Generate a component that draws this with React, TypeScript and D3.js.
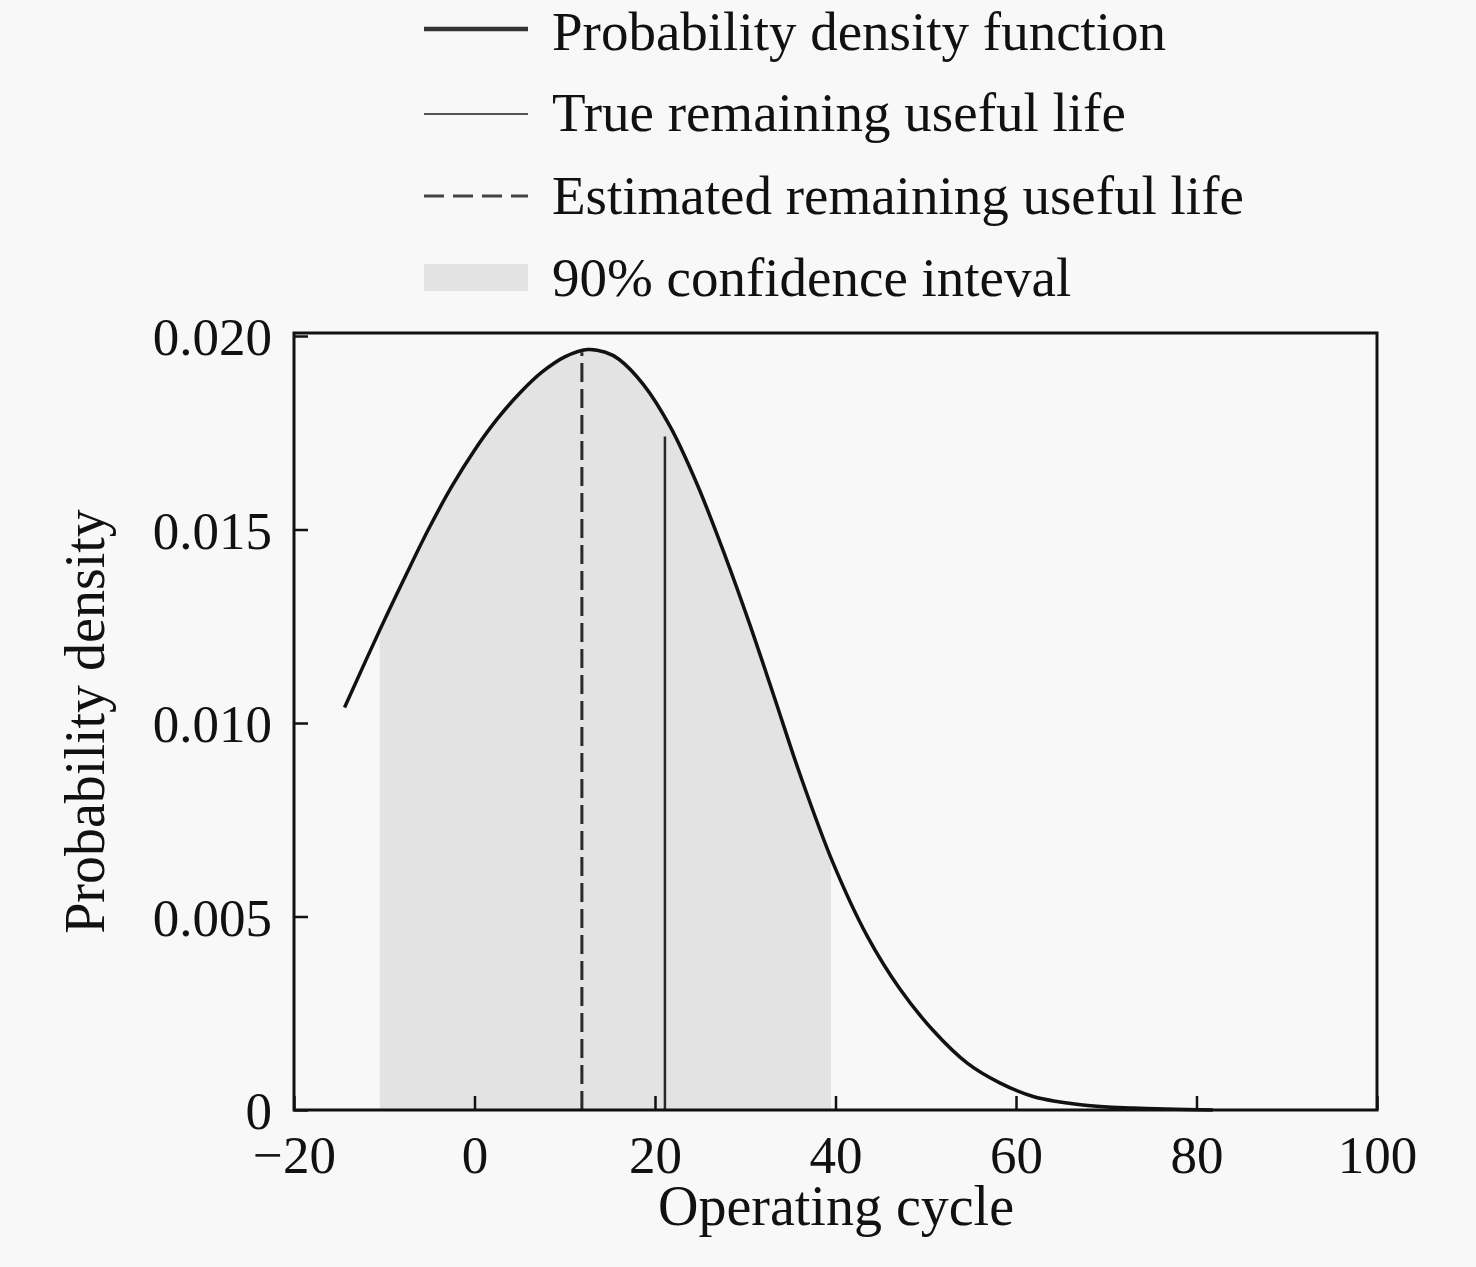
import * as d3 from "d3";
import { useEffect, useRef } from "react";

// values
const cycles = [
  -14.4, -10.5, -7.5, -5, -2.5, 0, 2.5, 5, 7.5, 10, 12.5, 14.5, 16, 18.7, 21.7,
  24.7, 27.8, 30.5, 33.1, 36.1, 39.7, 43.5, 47.1, 50.8, 54.6, 58.2, 61.9, 67.4,
  73.0, 81.8,
];
const density = [
  0.0104, 0.0124, 0.01387, 0.01505, 0.01612, 0.01705, 0.01785, 0.01852,
  0.01907, 0.01946, 0.01965, 0.01958, 0.0194, 0.01875, 0.01765, 0.01615,
  0.0143, 0.01255, 0.01075, 0.00865, 0.0064, 0.0045, 0.00314, 0.00206, 0.00121,
  0.0007, 0.00035, 0.00013, 0.00005, 0,
];
const confidence = [-10.5, 39.5];
const trueRul = { cycle: 21.1, top: 0.0174 };
const estRul = { cycle: 11.9, top: 0.01958 };
const xTicks = [-20, 0, 20, 40, 60, 80, 100];
const yTicks = [0, 0.005, 0.01, 0.015, 0.02];
const legendLabels = [
  "Probability density function",
  "True remaining useful life",
  "Estimated remaining useful life",
  "90% confidence inteval",
];

const W = 1476;
const H = 1267;
const FONT = "'Liberation Serif', 'Times New Roman', serif";

export default function App() {
  const ref = useRef<SVGSVGElement>(null);

  useEffect(() => {
    const svg = d3.select(ref.current);
    svg.selectAll("*").remove();

    const left = 294,
      right = 1377,
      top = 333,
      bottom = 1110;

    const x = d3.scaleLinear().domain([-20, 100]).range([left, right]);
    const y = d3.scaleLinear().domain([0, 0.02]).range([bottom, 336]);

    svg.append("rect").attr("width", W).attr("height", H).attr("fill", "#f8f8f8");

    const pts = cycles.map((c, i) => [c, density[i]] as [number, number]);
    const smooth = d3.curveCatmullRom.alpha(0.5);

    // shaded confidence interval, clipped to its bounds
    svg
      .append("clipPath")
      .attr("id", "ci-clip")
      .append("rect")
      .attr("x", x(confidence[0]))
      .attr("y", top)
      .attr("width", x(confidence[1]) - x(confidence[0]))
      .attr("height", bottom - top);

    svg
      .append("path")
      .datum(pts)
      .attr("clip-path", "url(#ci-clip)")
      .attr("fill", "#e3e3e3")
      .attr(
        "d",
        d3
          .area<[number, number]>()
          .x((d) => x(d[0]))
          .y0(bottom)
          .y1((d) => y(d[1]))
          .curve(smooth)
      );

    // estimated RUL (dashed)
    svg
      .append("line")
      .attr("x1", x(estRul.cycle))
      .attr("x2", x(estRul.cycle))
      .attr("y1", bottom)
      .attr("y2", y(estRul.top))
      .attr("stroke", "#2a2a2a")
      .attr("stroke-width", 3)
      .attr("stroke-dasharray", "19,7");

    // true RUL
    svg
      .append("line")
      .attr("x1", x(trueRul.cycle))
      .attr("x2", x(trueRul.cycle))
      .attr("y1", bottom)
      .attr("y2", y(trueRul.top))
      .attr("stroke", "#2a2a2a")
      .attr("stroke-width", 2.5);

    // pdf curve
    svg
      .append("path")
      .datum(pts)
      .attr("fill", "none")
      .attr("stroke", "#111")
      .attr("stroke-width", 3.5)
      .attr(
        "d",
        d3
          .line<[number, number]>()
          .x((d) => x(d[0]))
          .y((d) => y(d[1]))
          .curve(smooth)
      );

    // frame
    svg
      .append("rect")
      .attr("x", left)
      .attr("y", top)
      .attr("width", right - left)
      .attr("height", bottom - top)
      .attr("fill", "none")
      .attr("stroke", "#111")
      .attr("stroke-width", 3);

    // axes, ticks inward
    const xAxis = svg
      .append("g")
      .attr("transform", `translate(0,${bottom})`)
      .call(d3.axisBottom(x).tickValues(xTicks).tickSize(-14).tickPadding(25).tickFormat(d3.format("d")));
    const yAxis = svg
      .append("g")
      .attr("transform", `translate(${left},0)`)
      .call(
        d3
          .axisLeft(y)
          .tickValues(yTicks)
          .tickSize(-14)
          .tickPadding(22)
          .tickFormat((d) => (d === 0 ? "0" : d3.format(".3f")(d as number)))
      );
    [xAxis, yAxis].forEach((g) => {
      g.select(".domain").remove();
      g.selectAll(".tick line").attr("stroke", "#111").attr("stroke-width", 2.5);
      g.selectAll(".tick text")
        .attr("fill", "#111")
        .style("font-family", FONT)
        .style("font-size", "53px");
    });
    xAxis.selectAll(".tick text").attr("dy", "0.71em");
    yAxis.selectAll(".tick text").attr("dy", "0.35em");

    // axis titles
    svg
      .append("text")
      .attr("x", 836)
      .attr("y", 1225)
      .attr("text-anchor", "middle")
      .style("font-family", FONT)
      .style("font-size", "56px")
      .attr("fill", "#111")
      .text("Operating cycle");
    svg
      .append("text")
      .attr("transform", `translate(104,${(top + bottom) / 2}) rotate(-90)`)
      .attr("text-anchor", "middle")
      .style("font-family", FONT)
      .style("font-size", "56px")
      .attr("fill", "#111")
      .text("Probability density");

    // legend
    const lx0 = 424,
      lx1 = 528,
      rowY = [31, 112, 195, 277];
    const leg = svg.append("g");
    leg
      .append("line")
      .attr("x1", lx0)
      .attr("x2", lx1)
      .attr("y1", rowY[0] - 2)
      .attr("y2", rowY[0] - 2)
      .attr("stroke", "#333")
      .attr("stroke-width", 4.5);
    leg
      .append("line")
      .attr("x1", lx0)
      .attr("x2", lx1)
      .attr("y1", rowY[1] + 2)
      .attr("y2", rowY[1] + 2)
      .attr("stroke", "#555")
      .attr("stroke-width", 2);
    leg
      .append("line")
      .attr("x1", lx0)
      .attr("x2", lx1)
      .attr("y1", rowY[2] + 1)
      .attr("y2", rowY[2] + 1)
      .attr("stroke", "#444")
      .attr("stroke-width", 3)
      .attr("stroke-dasharray", "20,9");
    leg
      .append("rect")
      .attr("x", lx0)
      .attr("y", rowY[3] - 13)
      .attr("width", lx1 - lx0)
      .attr("height", 27)
      .attr("fill", "#e3e3e3");
    leg
      .selectAll("text.lbl")
      .data(legendLabels)
      .join("text")
      .attr("class", "lbl")
      .attr("x", 552)
      .attr("y", (_, i) => rowY[i])
      .attr("dy", "0.35em")
      .style("font-family", FONT)
      .style("font-size", "55px")
      .attr("fill", "#111")
      .text((d) => d);
  }, []);

  return (
    <svg
      ref={ref}
      width={W}
      height={H}
      style={{ position: "absolute", left: 0, top: 0, display: "block" }}
    />
  );
}
